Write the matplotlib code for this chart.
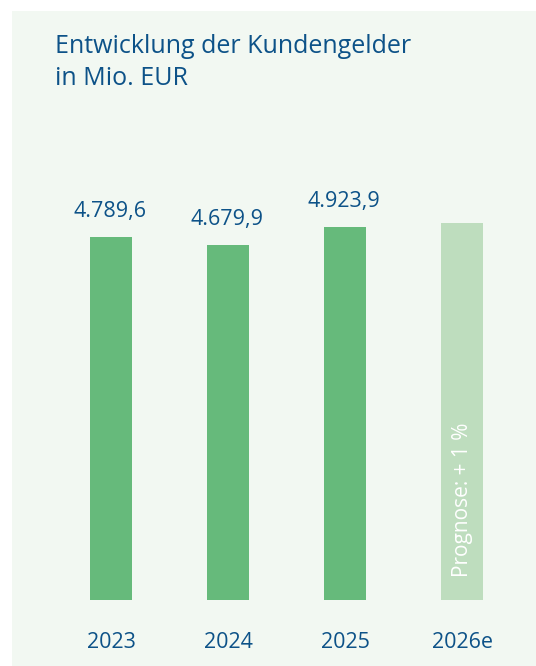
import numpy as np
import matplotlib.pyplot as plt
from matplotlib.patches import Rectangle

plt.rcParams['font.family'] = ['Open Sans', 'DejaVu Sans']

years = ["2023", "2024", "2025", "2026e"]
values = [4789.6, 4679.9, 4923.9, 4973.1]
labels = ["4.789,6", "4.679,9", "4.923,9", ""]
colors = ["#66BA7B", "#66BA7B", "#66BA7B", "#BEDDBE"]
prognose = "Prognose: + 1 %"

blue = "#0D5288"
bg = "#F2F8F2"

fig = plt.figure(figsize=(5.36, 6.66), dpi=100)
fig.patch.set_facecolor(bg)

# white strips on top and left, the light green panel fills the rest
fig.patches.append(Rectangle((0, 1 - 11 / 666), 1, 11 / 666, lw=0,
                             transform=fig.transFigure, color="white", zorder=-10))
fig.patches.append(Rectangle((0, 0), 12 / 536, 1, lw=0,
                             transform=fig.transFigure, color="white", zorder=-10))

fig.text(55 / 536, 1 - 53 / 666, "Entwicklung der Kundengelder",
         color=blue, fontsize=18, ha="left", va="baseline")
fig.text(55 / 536, 1 - 85 / 666, "in Mio. EUR",
         color=blue, fontsize=18, ha="left", va="baseline")

ax = fig.add_axes([40 / 536, 66 / 666, 480 / 536, 450 / 666])
ax.set_facecolor("none")

x = np.arange(len(years))
bars = ax.bar(x, values, width=0.36, color=colors)

for xi, v, lab in zip(x, values, labels):
    if lab:
        ax.annotate(lab, (xi, v), xytext=(-1, 11), textcoords="offset points",
                    ha="center", va="bottom", color=blue, fontsize=15.5)

ax.text(x[3], 300, prognose, rotation=90, ha="center", va="bottom",
        color="white", fontsize=15)

ax.set_xlim(-71 / 117, 409 / 117)
ax.set_ylim(0, 450 * 13.2)
ax.set_xticks(x)
ax.set_xticklabels(years, color=blue, fontsize=15.5)
ax.tick_params(axis="x", length=0, pad=23)
ax.set_yticks([])
for s in ax.spines.values():
    s.set_visible(False)

plt.savefig("out.png", dpi=100, facecolor=bg)
